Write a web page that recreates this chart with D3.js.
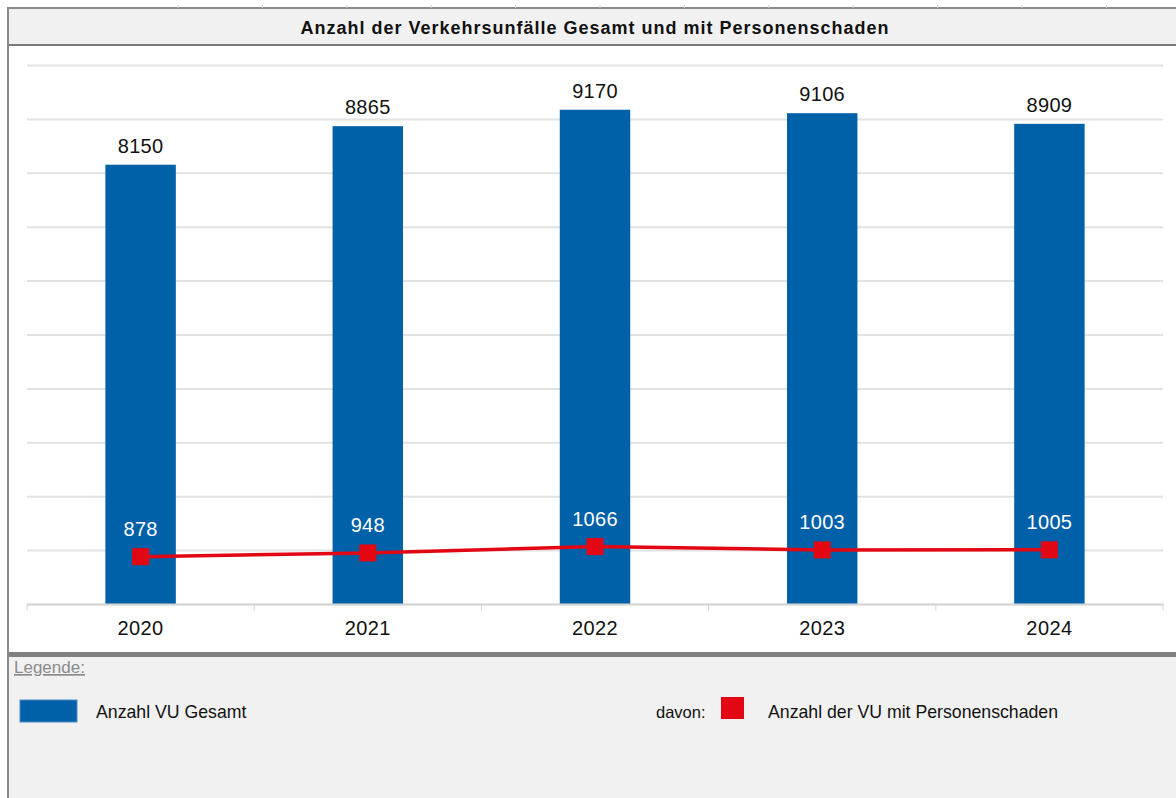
<!DOCTYPE html>
<html>
<head>
<meta charset="utf-8">
<script src="https://cdn.jsdelivr.net/npm/d3@7"></script>
<style>
  body { margin: 0; background: #fff; }
  svg { display: block; font-family: "Liberation Sans", Arial, sans-serif; }
</style>
</head>
<body>
<div id="chart"></div>
<script>
var years = ["2020", "2021", "2022", "2023", "2024"];
var gesamt = [8150, 8865, 9170, 9106, 8909];
var personenschaden = [878, 948, 1066, 1003, 1005];

var W = 1176, H = 798;
var plot = {left: 27, right: 1163, top: 65, bottom: 604};

var svg = d3.select("#chart").append("svg")
    .attr("width", W)
    .attr("height", H);

// header strip
svg.append("rect").attr("x", 0).attr("y", 0).attr("width", W).attr("height", H).attr("fill", "#fff");
svg.append("rect").attr("x", 8).attr("y", 8).attr("width", W - 8).attr("height", 37).attr("fill", "#f1f1f1");
svg.append("line").attr("x1", 7).attr("x2", W).attr("y1", 8).attr("y2", 8)
    .attr("stroke", "#8a8a8a").attr("stroke-width", 2);
svg.append("line").attr("x1", 7).attr("x2", W).attr("y1", 45).attr("y2", 45)
    .attr("stroke", "#7a7a7a").attr("stroke-width", 2);
// small cell separators above header
d3.range(12).forEach(function(i) {
  svg.append("line")
    .attr("x1", 178 + i * 84.4).attr("x2", 178 + i * 84.4)
    .attr("y1", 5).attr("y2", 8)
    .attr("stroke", "#d0d0d0").attr("stroke-width", 1);
});

svg.append("text")
    .attr("x", 595)
    .attr("y", 34)
    .attr("text-anchor", "middle")
    .attr("font-size", 18)
    .attr("font-weight", "bold")
    .attr("letter-spacing", 1)
    .attr("fill", "#111")
    .text("Anzahl der Verkehrsunfälle Gesamt und mit Personenschaden");

// scales
var x = d3.scaleBand()
    .domain(years)
    .range([plot.left, plot.right])
    .paddingInner(0.69)
    .paddingOuter(0.345);

var y = d3.scaleLinear()
    .domain([0, 10000])
    .range([plot.bottom, plot.top]);

// gridlines
var grid = svg.append("g")
    .attr("transform", "translate(" + plot.left + ",0)")
    .call(d3.axisLeft(y).ticks(10).tickSize(-(plot.right - plot.left)).tickFormat(""));
grid.select(".domain").remove();
grid.selectAll(".tick line").attr("stroke", "#e2e2e2").attr("stroke-width", 2);

// bars
svg.selectAll(".bar")
    .data(gesamt)
    .enter()
    .append("rect")
    .attr("class", "bar")
    .attr("x", function(d, i) { return x(years[i]); })
    .attr("y", function(d) { return y(d); })
    .attr("width", x.bandwidth())
    .attr("height", function(d) { return y(0) - y(d); })
    .attr("fill", "#0060a8");

// bar labels
svg.selectAll(".barLabel")
    .data(gesamt)
    .enter()
    .append("text")
    .attr("class", "barLabel")
    .attr("x", function(d, i) { return x(years[i]) + x.bandwidth() / 2; })
    .attr("y", function(d) { return y(d) - 12; })
    .attr("text-anchor", "middle")
    .attr("font-size", 20)
    .attr("letter-spacing", 0.3)
    .attr("fill", "#111")
    .text(function(d) { return d; });

// x axis
var xAxis = svg.append("g")
    .attr("transform", "translate(0," + plot.bottom + ")")
    .call(d3.axisBottom(x).tickSize(0).tickPadding(17));
xAxis.select(".domain").attr("stroke", "#d6d6d6").attr("stroke-width", 2);
xAxis.selectAll(".tick text")
    .attr("font-size", 20)
    .attr("letter-spacing", 0.4)
    .attr("font-family", "Liberation Sans, Arial, sans-serif")
    .attr("fill", "#111");
var bounds = d3.scaleLinear().domain([0, years.length]).range([plot.left, plot.right]);
xAxis.selectAll(".bound")
    .data(d3.range(years.length + 1))
    .enter()
    .append("line")
    .attr("class", "bound")
    .attr("x1", function(d) { return bounds(d); })
    .attr("x2", function(d) { return bounds(d); })
    .attr("y1", 0).attr("y2", 7)
    .attr("stroke", "#d6d6d6").attr("stroke-width", 1);

// red line
var line = d3.line()
    .x(function(d, i) { return x(years[i]) + x.bandwidth() / 2; })
    .y(function(d) { return y(d); });

svg.append("path")
    .datum(personenschaden)
    .attr("d", line)
    .attr("fill", "none")
    .attr("stroke", "#e30613")
    .attr("stroke-width", 3.5);

svg.selectAll(".marker")
    .data(personenschaden)
    .enter()
    .append("rect")
    .attr("class", "marker")
    .attr("x", function(d, i) { return x(years[i]) + x.bandwidth() / 2 - 8.5; })
    .attr("y", function(d) { return y(d) - 8.5; })
    .attr("width", 17)
    .attr("height", 17)
    .attr("fill", "#e30613");

svg.selectAll(".lineLabel")
    .data(personenschaden)
    .enter()
    .append("text")
    .attr("class", "lineLabel")
    .attr("x", function(d, i) { return x(years[i]) + x.bandwidth() / 2; })
    .attr("y", function(d) { return y(d) - 21; })
    .attr("text-anchor", "middle")
    .attr("font-size", 20)
    .attr("letter-spacing", 0.3)
    .attr("fill", "#fff")
    .text(function(d) { return d; });

// legend area
svg.append("rect").attr("x", 8).attr("y", 652).attr("width", W - 8).attr("height", H - 652).attr("fill", "#f1f1f1");
svg.append("rect").attr("x", 8).attr("y", 652).attr("width", W - 8).attr("height", 5).attr("fill", "#808080");
svg.append("line").attr("x1", 8).attr("x2", 8).attr("y1", 8).attr("y2", H)
    .attr("stroke", "#8a8a8a").attr("stroke-width", 2);

svg.append("text")
    .attr("x", 14).attr("y", 673)
    .attr("font-size", 17)
    .attr("fill", "#8a8a8a")
    .attr("text-decoration", "underline")
    .text("Legende:");

svg.append("rect")
    .attr("x", 20).attr("y", 700).attr("width", 57).attr("height", 22)
    .attr("fill", "#0060a8").attr("stroke", "#4a8cc8").attr("stroke-width", 1);
svg.append("text")
    .attr("x", 96).attr("y", 718)
    .attr("font-size", 17.7)
    .attr("fill", "#111")
    .text("Anzahl VU Gesamt");

svg.append("text")
    .attr("x", 656).attr("y", 718)
    .attr("font-size", 16.5)
    .attr("fill", "#111")
    .text("davon:");
svg.append("rect")
    .attr("x", 721).attr("y", 697).attr("width", 23).attr("height", 22)
    .attr("fill", "#e30613");
svg.append("text")
    .attr("x", 768).attr("y", 718)
    .attr("font-size", 17.7)
    .attr("fill", "#111")
    .text("Anzahl der VU mit Personenschaden");
</script>
</body>
</html>
